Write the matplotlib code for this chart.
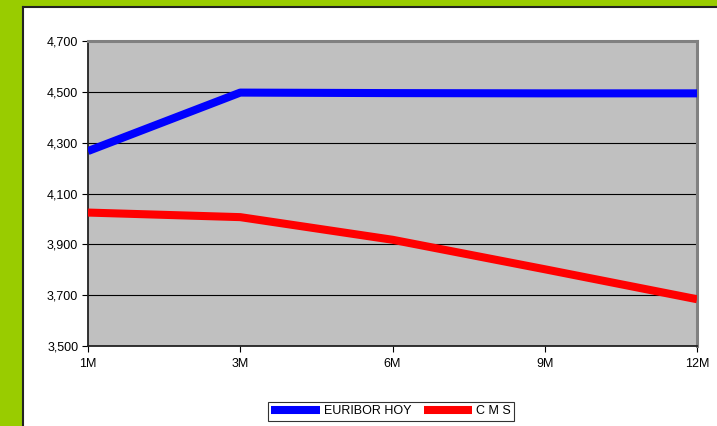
import matplotlib
matplotlib.use('Agg')
import matplotlib.pyplot as plt
from matplotlib.patches import Rectangle
from matplotlib.lines import Line2D
from matplotlib.ticker import FuncFormatter

plt.rcParams['font.family'] = ['Liberation Sans', 'DejaVu Sans']

## Data
plazos = ['1M', '3M', '6M', '9M', '12M']
euribor_hoy = [4.267, 4.497, 4.495, 4.494, 4.494]
cms = [4.025, 4.007, 3.918, 3.802, 3.684]
yticks = [3.5, 3.7, 3.9, 4.1, 4.3, 4.5, 4.7]

W, H = 717, 426
fig = plt.figure(figsize=(W / 100, H / 100), dpi=100, facecolor='#99CC00')

## white panel with black border on left/top
panel = Rectangle((23 / W, -0.05), 1.1, (H - 7) / H + 0.05, transform=fig.transFigure,
                  facecolor='white', edgecolor='none', zorder=-5)
fig.add_artist(panel)
fig.add_artist(Line2D([23 / W, 23 / W], [0, (H - 7) / H], transform=fig.transFigure,
                      color='#222222', lw=1.5, zorder=-4))
fig.add_artist(Line2D([23 / W, 1], [(H - 7) / H, (H - 7) / H], transform=fig.transFigure,
                      color='#222222', lw=1.5, zorder=-4))

ax = fig.add_axes([88 / W, (H - 346) / H, 609 / W, 305 / H], zorder=1)
ax.set_facecolor('#C0C0C0')

x = list(range(len(plazos)))
ax.plot(x, euribor_hoy, color='#0000FF', lw=5.8, solid_capstyle='butt', zorder=3, label='EURIBOR HOY')
ax.plot(x, cms, color='#FF0000', lw=5.8, solid_capstyle='butt', zorder=3, label='C M S')

ax.set_xlim(0, len(plazos) - 1)
ax.set_ylim(3.5, 4.7)
ax.set_xticks(x)
ax.set_xticklabels(plazos)
ax.set_yticks(yticks)
ax.yaxis.set_major_formatter(FuncFormatter(lambda v, p: ('%.3f' % v).replace('.', ',')))
ax.grid(axis='y', color='black', lw=0.8)
ax.set_axisbelow(True)
ax.tick_params(labelsize=9, length=4, width=0.8, colors='black', pad=3)
ax.tick_params(axis='x', pad=4.5)

for s in ['left', 'bottom']:
    ax.spines[s].set_color('#222222')
    ax.spines[s].set_linewidth(1.3)
for s in ['top', 'right']:
    ax.spines[s].set_color('#808080')
    ax.spines[s].set_linewidth(2.2)

leg = fig.legend(loc='center', bbox_to_anchor=(391 / W, (H - 411.5) / H), ncol=2,
                 fontsize=9, frameon=True, fancybox=False, edgecolor='black',
                 handlelength=3.9, handletextpad=0.3, columnspacing=1.0,
                 borderpad=0.25, borderaxespad=0)
leg.get_frame().set_linewidth(0.8)

plt.savefig('out.png', dpi=100, facecolor=fig.get_facecolor())
